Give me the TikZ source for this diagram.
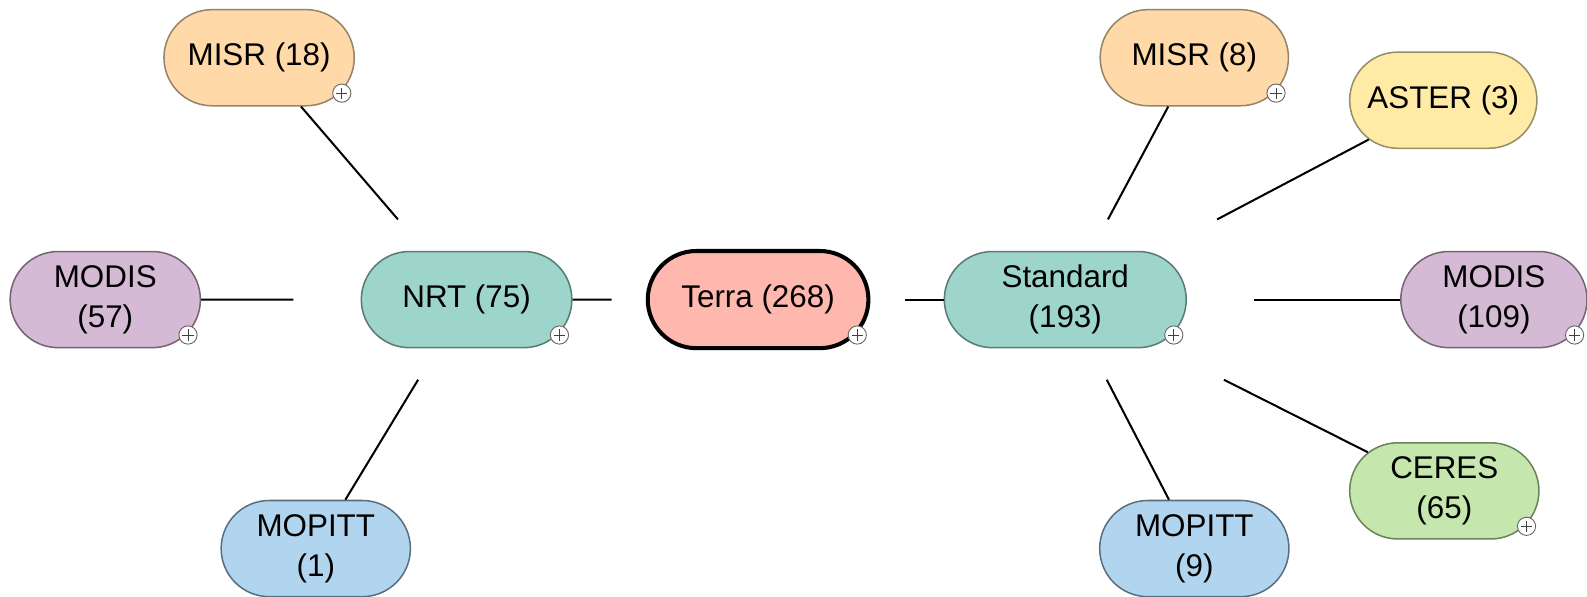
\documentclass[tikz,border=0pt]{standalone}
\usepackage{fontspec}
\setmainfont{Liberation Sans}
\usetikzlibrary{shapes.misc}
\definecolor{terrafill}{HTML}{FFB8AE}
\definecolor{tealfill}{HTML}{9DD5CA}
\definecolor{tealline}{HTML}{5A7A75}
\definecolor{peachfill}{HTML}{FFD9A8}
\definecolor{peachline}{HTML}{968468}
\definecolor{yellowfill}{HTML}{FFEBA6}
\definecolor{yellowline}{HTML}{968E68}
\definecolor{lavfill}{HTML}{D4BAD4}
\definecolor{lavline}{HTML}{746474}
\definecolor{bluefill}{HTML}{B2D5EF}
\definecolor{blueline}{HTML}{5A6E80}
\definecolor{greenfill}{HTML}{C5E6AC}
\definecolor{greenline}{HTML}{6A845A}
\begin{document}
\begin{tikzpicture}[x=1pt,y=-1pt,
  box/.style={rounded rectangle, draw, line width=1.5pt, minimum height=95pt,
    inner sep=0pt, align=center, font=\fontsize{31}{39}\selectfont},
  teal/.style={box, fill=tealfill, draw=tealline},
  peach/.style={box, fill=peachfill, draw=peachline},
  yel/.style={box, fill=yellowfill, draw=yellowline},
  lav/.style={box, fill=lavfill, draw=lavline},
  blu/.style={box, fill=bluefill, draw=blueline},
  grn/.style={box, fill=greenfill, draw=greenline},
  hub/.style={rectangle, draw=none, inner sep=0pt},
  link/.style={line width=2pt, black},
  plus/.style={circle, draw=black!60, fill=white, line width=0.9pt,
    minimum size=18pt, inner sep=0pt,
    path picture={\draw[black!75, line width=0.9pt]
      ([xshift=-5.5pt]path picture bounding box.center) -- ([xshift=5.5pt]path picture bounding box.center)
      ([yshift=-5.5pt]path picture bounding box.center) -- ([yshift=5.5pt]path picture bounding box.center);}}
]
\useasboundingbox (0,0) rectangle (1568,589);

% main nodes
\node[box, fill=terrafill, draw=black, line width=4pt, minimum width=218pt, minimum height=96pt] (terra) at (749,296) {Terra (268)};
\node[teal, minimum width=208pt] (nrt) at (461,296) {NRT (75)};
\node[teal, minimum width=239pt] (std) at (1052.5,296) {Standard\\(193)};

% children of NRT
\node[peach, minimum width=188pt] (misrA) at (256,57) {MISR (18)};
\node[lav, minimum width=188pt] (modisA) at (104,296) {MODIS\\(57)};
\node[blu, minimum width=187pt] (mopittA) at (312,542) {MOPITT\\(1)};

% children of Standard
\node[peach, minimum width=186pt] (misrB) at (1180,57) {MISR (8)};
\node[yel, minimum width=185pt] (aster) at (1426,99) {ASTER (3)};
\node[lav, minimum width=184pt] (modisB) at (1476,296) {MODIS\\(109)};
\node[grn, minimum width=187pt] (ceres) at (1427,485) {CERES\\(65)};
\node[blu, minimum width=187pt] (mopittB) at (1180,542) {MOPITT\\(9)};

% invisible hubs from which connectors start
\node[hub, minimum width=289pt, minimum height=100pt] (terrahub) at (terra.center) {};
\node[hub, minimum width=342pt, minimum height=158pt] (nrthub) at (nrt.center) {};
\node[hub, minimum width=373pt, minimum height=158pt] (stdhub) at (std.center) {};

% connectors
\draw[link] (terrahub) -- (nrt);
\draw[link] (terrahub) -- (std);
\draw[link] (nrthub) -- (misrA);
\draw[link] (nrthub) -- (modisA);
\draw[link] (nrthub) -- (mopittA);
\draw[link] (stdhub) -- (misrB);
\draw[link] (stdhub) -- (aster);
\draw[link] (stdhub) -- (modisB);
\draw[link] (stdhub) -- (ceres);
\draw[link] (stdhub) -- (mopittB);

% expand markers
\node[plus] (terraplus) at ([shift={(-13,35)}]terra.east) {};
\node[plus] (nrtplus) at ([shift={(-13,35)}]nrt.east) {};
\node[plus] (stdplus) at ([shift={(-13,35)}]std.east) {};
\node[plus] (misrAplus) at ([shift={(-13,35)}]misrA.east) {};
\node[plus] (modisAplus) at ([shift={(-13,35)}]modisA.east) {};
\node[plus] (misrBplus) at ([shift={(-13,35)}]misrB.east) {};
\node[plus] (modisBplus) at ([shift={(-13,35)}]modisB.east) {};
\node[plus] (ceresplus) at ([shift={(-13,35)}]ceres.east) {};
\end{tikzpicture}
\end{document}
